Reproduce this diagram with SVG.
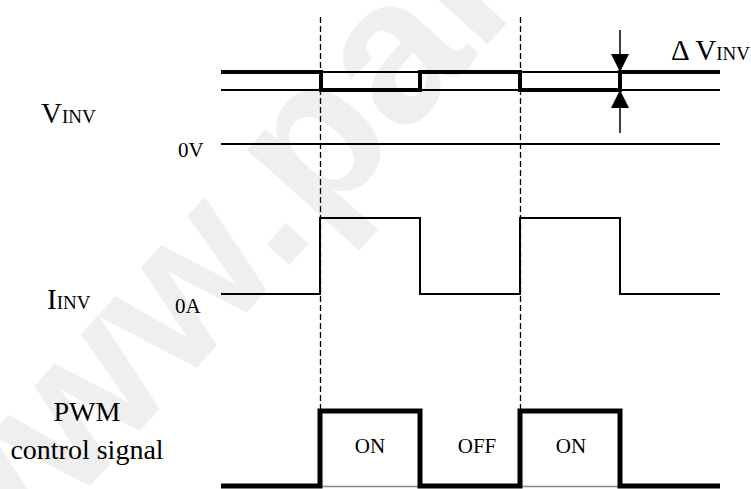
<svg xmlns="http://www.w3.org/2000/svg" width="751" height="489" viewBox="0 0 751 489">
<style>
.t{font-family:"Liberation Serif","Times New Roman",serif;fill:#000}
.wm{font-family:"Liberation Sans",Arial,sans-serif;font-weight:bold;fill:#efefef}
.thin{fill:none;stroke:#000;stroke-width:2}
.thick{fill:none;stroke:#000;stroke-width:4;stroke-linejoin:miter}
.pwm{fill:none;stroke:#000;stroke-width:5;stroke-linejoin:miter}
.dash{fill:none;stroke:#000;stroke-width:1.3;stroke-dasharray:6 3}
.big{font-size:29px}
.sub{font-size:19px}
.lab{font-size:21px}
.cap{font-size:28px}
</style>
<rect width="751" height="489" fill="#fff"/>
<text class="wm" font-size="205" transform="translate(-35,625) rotate(-48)">www.pan</text>

<g id="connectors">
<line class="dash" x1="320.5" y1="17" x2="320.5" y2="411"/>
<line class="dash" x1="520.5" y1="17" x2="520.5" y2="411"/>
</g>

<g id="vinv-trace">
<line class="thin" x1="221" y1="72" x2="720" y2="72"/>
<line class="thin" x1="221" y1="90" x2="720" y2="90"/>
<path class="thick" d="M221,72 H321 V90 H420 V72 H520 V90 H620 V72 H720"/>
<line class="thin" x1="221" y1="144" x2="720" y2="144"/>
</g>

<g id="delta-arrows">
<line x1="620" y1="30" x2="620" y2="56" stroke="#000" stroke-width="1.5"/>
<polygon points="611,54 629,54 620,72" fill="#000"/>
<polygon points="611,108 629,108 620,90" fill="#000"/>
<line x1="620" y1="106" x2="620" y2="133" stroke="#000" stroke-width="1.5"/>
</g>

<g id="iinv-trace">
<path class="thin" d="M221,294 H320 V218 H420 V294 H520 V218 H620 V294 H720"/>
</g>

<g id="pwm-trace">
<line x1="221" y1="486.5" x2="720" y2="486.5" stroke="#888" stroke-width="1.5"/>
<path class="pwm" d="M221,486 H320 V411 H420 V486 H520 V411 H620 V486 H720"/>
</g>

<g id="labels">
<text class="t" x="671" y="60"><tspan class="big">Δ V</tspan><tspan class="sub">INV</tspan></text>
<text class="t" x="41" y="123"><tspan class="big">V</tspan><tspan class="sub">INV</tspan></text>
<text class="t lab" x="178" y="157">0V</text>
<text class="t" x="47" y="309"><tspan class="big">I</tspan><tspan class="sub">INV</tspan></text>
<text class="t lab" x="175" y="313">0A</text>
<text class="t cap" x="87" y="421" text-anchor="middle">PWM</text>
<text class="t cap" x="87" y="459" text-anchor="middle">control signal</text>
<text class="t lab" x="370" y="453" text-anchor="middle">ON</text>
<text class="t lab" x="477" y="453" text-anchor="middle">OFF</text>
<text class="t lab" x="571" y="453" text-anchor="middle">ON</text>
</g>
</svg>
